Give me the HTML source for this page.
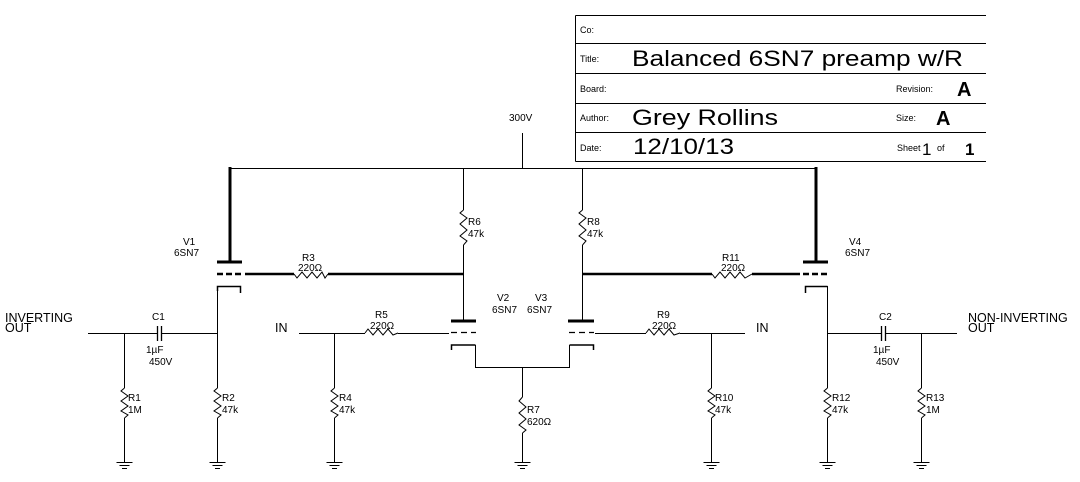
<!DOCTYPE html>
<html><head><meta charset="utf-8"><style>
html,body{margin:0;padding:0;background:#fff;}
svg{display:block}
text{font-family:"Liberation Sans",sans-serif;fill:#000}
.s{font-size:10px}
.m{font-size:12.5px}
.t{font-size:9px}
.b{font-size:22px}
</style></head><body>
<svg width="1080" height="482" viewBox="0 0 1080 482" xmlns="http://www.w3.org/2000/svg">
<defs>
<g id="gnd" stroke="#000" stroke-width="1" fill="none"><path d="M-8 0.5H8M-5 3.5H5M-2.5 6.5H2.5"/></g>
</defs>
<g stroke="#000" stroke-width="1" fill="none" shape-rendering="crispEdges">
<path d="M575.5 15.5H986M575.5 43.5H986M575.5 73.5H986M575.5 103.5H986M575.5 132.5H986M575.5 161.5H986M575.5 15.5V161.5"/>
<path d="M522.5 133V168"/>
<path d="M230 168.5H816.5"/>
<path d="M463.5 168V210M463.5 245V321M582.5 168V210M582.5 245V321"/>
<path d="M522.5 367V397M522.5 433V462"/>
<path d="M88 333.5H157M161 333.5H217.5M124.5 333V388M124.5 418V462M217.5 286V388M217.5 418V462"/>
<path d="M299 333.5H365M398 333.5H449M334.5 333V388M334.5 418V462"/>
<path d="M595 333.5H646M680 333.5H745M711.5 333V388M711.5 418V462"/>
<path d="M827.5 286V388M827.5 418V462M827 333.5H881M885 333.5H957M921.5 333V388M921.5 418V462"/>
<path d="M475.5 345V367.5H569.5V345"/>
</g>
<g stroke="#000" fill="none">
<path d="M230 167V262M816 167V262" stroke-width="3"/>
<path d="M217 262H242M803 262H828M451 321H476M568 321H594" stroke-width="3"/>
<path d="M245 274H294M328 274H463.5M582 274H712M752 274H800" stroke-width="2.5"/>
<path d="M217 274H242M803 274H828" stroke-width="2.5" stroke-dasharray="6 3"/>
<path d="M451 332.5H476M569 332.5H594" stroke-width="1.2" stroke-dasharray="6 4"/>
<path d="M217.5 291V286.5H240.5V293" stroke-width="1.5"/>
<path d="M805.5 293V286.5H827.5" stroke-width="1.5"/>
<path d="M451.5 350V345H475.5M569.5 345H593.5V350" stroke-width="1.5"/>
<path d="M157.5 326V341M161.5 326V341M881.5 326V341M885.5 326V341" stroke-width="1.3"/>
<g stroke-width="1">
<path d="M124.5 388L121 391L128 396L121 401L128 406L121 411L128 415L124.5 418"/>
<path d="M217.5 388L214 391L221 396L214 401L221 406L214 411L221 415L217.5 418"/>
<path d="M334.5 388L331 391L338 396L331 401L338 406L331 411L338 415L334.5 418"/>
<path d="M711.5 388L708 391L715 396L708 401L715 406L708 411L715 415L711.5 418"/>
<path d="M827.5 388L824 391L831 396L824 401L831 406L824 411L831 415L827.5 418"/>
<path d="M921.5 388L918 391L925 396L918 401L925 406L918 411L925 415L921.5 418"/>
<path d="M463.5 210L460 213L467 218L460 224L467 230L460 236L467 241L463.5 245"/>
<path d="M582.5 210L579 213L586 218L579 224L586 230L579 236L586 241L582.5 245"/>
<path d="M522.5 397L519 401L526 407L519 413L526 419L519 425L526 430L522.5 433"/>
<path d="M294 274L297 278L302 272L307 278L312 272L317 278L322 272L325 278L328 274"/>
<path d="M712 274L715 278L720 272L725 278L730 272L735 278L740 272L745 278L752 274"/>
<path d="M365 333L368 329L373 335L378 329L383 335L388 329L393 335L398 333"/>
<path d="M646 333L649 329L654 335L659 329L664 335L669 329L674 335L680 333"/>
</g>
</g>
<use href="#gnd" x="124.5" y="462"/><use href="#gnd" x="217.5" y="462"/><use href="#gnd" x="334.5" y="462"/>
<use href="#gnd" x="522.5" y="462"/><use href="#gnd" x="711.5" y="462"/><use href="#gnd" x="827.5" y="462"/><use href="#gnd" x="921.5" y="462"/>

<text class="t" x="580" y="33">Co:</text>
<text class="t" x="580" y="62">Title:</text>
<text class="b" x="632" y="66" textLength="331" lengthAdjust="spacingAndGlyphs">Balanced 6SN7 preamp w/R</text>
<text class="t" x="580" y="92">Board:</text>
<text class="t" x="896" y="92">Revision:</text>
<text class="b" x="957" y="96" style="font-size:20px;font-weight:bold">A</text>
<text class="t" x="580" y="121">Author:</text>
<text class="b" x="632" y="125" textLength="146" lengthAdjust="spacingAndGlyphs">Grey Rollins</text>
<text class="t" x="896" y="121">Size:</text>
<text class="b" x="936" y="125" style="font-size:20px;font-weight:bold">A</text>
<text class="t" x="580" y="151">Date:</text>
<text class="b" x="633" y="154" textLength="101" lengthAdjust="spacingAndGlyphs">12/10/13</text>
<text class="t" x="897" y="151">Sheet</text>
<text x="922" y="155" style="font-size:17px">1</text>
<text class="t" x="937" y="151">of</text>
<text x="965" y="155" style="font-size:17px;font-weight:bold">1</text>

<text class="s" x="509" y="121">300V</text>
<text class="s" x="183" y="245">V1</text><text class="s" x="174" y="256">6SN7</text>
<text class="s" x="849" y="245">V4</text><text class="s" x="845" y="256">6SN7</text>
<text class="s" x="497" y="301">V2</text><text class="s" x="492" y="313">6SN7</text>
<text class="s" x="535" y="301">V3</text><text class="s" x="527" y="313">6SN7</text>
<text class="s" x="302" y="261">R3</text><text class="s" x="298" y="271">220Ω</text>
<text class="s" x="722" y="261">R11</text><text class="s" x="721" y="271">220Ω</text>
<text class="s" x="375" y="318">R5</text><text class="s" x="370" y="329">220Ω</text>
<text class="s" x="657" y="318">R9</text><text class="s" x="652" y="329">220Ω</text>
<text class="s" x="468" y="225">R6</text><text class="s" x="468" y="237">47k</text>
<text class="s" x="587" y="225">R8</text><text class="s" x="587" y="237">47k</text>
<text class="s" x="527" y="413">R7</text><text class="s" x="527" y="425">620Ω</text>
<text class="s" x="128" y="401">R1</text><text class="s" x="128" y="413">1M</text>
<text class="s" x="222" y="401">R2</text><text class="s" x="222" y="413">47k</text>
<text class="s" x="339" y="401">R4</text><text class="s" x="339" y="413">47k</text>
<text class="s" x="715" y="401">R10</text><text class="s" x="715" y="413">47k</text>
<text class="s" x="832" y="401">R12</text><text class="s" x="832" y="413">47k</text>
<text class="s" x="926" y="401">R13</text><text class="s" x="926" y="413">1M</text>
<text class="s" x="152" y="320">C1</text><text class="s" x="146" y="353">1µF</text><text class="s" x="149" y="365">450V</text>
<text class="s" x="879" y="320">C2</text><text class="s" x="873" y="353">1µF</text><text class="s" x="876" y="365">450V</text>
<text class="m" x="5" y="322">INVERTING</text><text class="m" x="5" y="332">OUT</text>
<text class="m" x="968" y="322">NON-INVERTING</text><text class="m" x="968" y="332">OUT</text>
<text class="m" x="275" y="332">IN</text>
<text class="m" x="756" y="332">IN</text>
</svg>
</body></html>
